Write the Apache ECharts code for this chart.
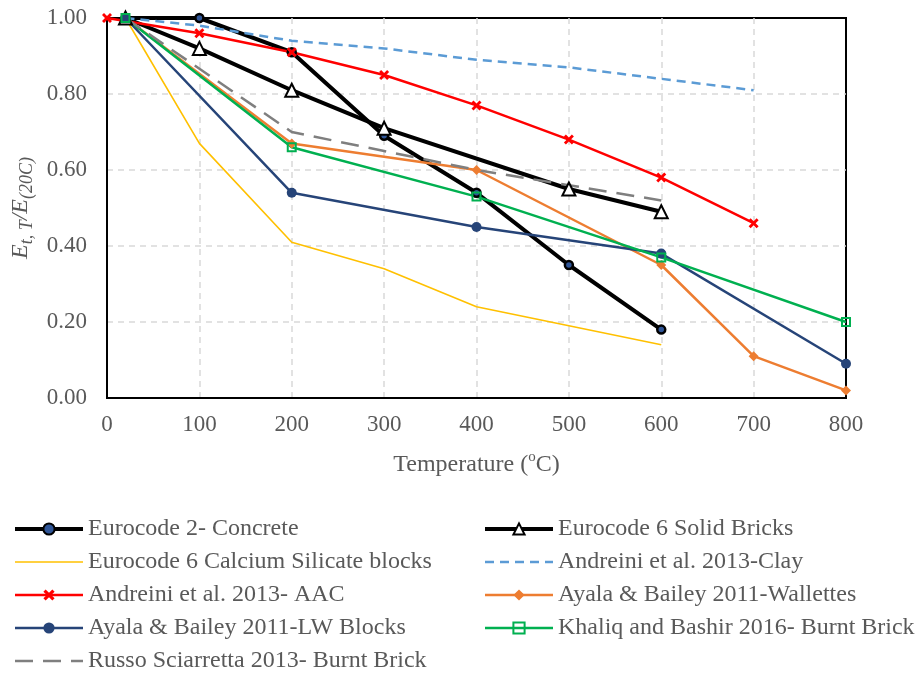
<!DOCTYPE html>
<html>
<head>
<meta charset="utf-8">
<script src="https://cdn.jsdelivr.net/npm/echarts@6/dist/echarts.min.js"></script>
<style>
  html, body { margin: 0; padding: 0; background: #fff; }
  #chart { width: 919px; height: 673px; }
</style>
</head>
<body>
<div id="chart"></div>
<script>
// Elastic modulus reduction factor E(t,T)/E(20C) versus temperature
const FONT = '"Liberation Serif", "Times New Roman", serif';
const TEXT_GREY = '#595959';

// Temperatures (°C) and reduction factors for each source
const ec2Temp      = [20, 100, 200, 300, 400, 500, 600];
const ec2Concrete  = [1.00, 1.00, 0.91, 0.69, 0.54, 0.35, 0.18];

const ec6SolidTemp = [20, 100, 200, 300, 500, 600];
const ec6Solid     = [1.00, 0.92, 0.81, 0.71, 0.55, 0.49];

const ec6CaSiTemp  = [20, 100, 200, 300, 400, 500, 600];
const ec6CaSi      = [1.00, 0.67, 0.41, 0.34, 0.24, 0.19, 0.14];

const clayTemp     = [20, 100, 200, 300, 400, 500, 600, 700];
const andreiniClay = [1.00, 0.98, 0.94, 0.92, 0.89, 0.87, 0.84, 0.81];

const aacTemp      = [0, 100, 200, 300, 400, 500, 600, 700];
const andreiniAAC  = [1.00, 0.96, 0.91, 0.85, 0.77, 0.68, 0.58, 0.46];

const wallTemp     = [20, 200, 400, 600, 700, 800];
const ayalaWall    = [1.00, 0.67, 0.60, 0.35, 0.11, 0.02];

const lwTemp       = [20, 200, 400, 600, 800];
const ayalaLW      = [1.00, 0.54, 0.45, 0.38, 0.09];

const khaliqTemp   = [20, 200, 400, 600, 800];
const khaliqBrick  = [1.00, 0.66, 0.53, 0.37, 0.20];

const russoTemp    = [20, 200, 300, 400, 500, 600];
const russoBrick   = [1.00, 0.70, 0.65, 0.60, 0.56, 0.52];

const pairs = (xs, ys) => xs.map((x, i) => [x, ys[i]]);

const crossPath = 'path://M2,0 L5,3 L8,0 L10,2 L7,5 L10,8 L8,10 L5,7 L2,10 L0,8 L3,5 L0,2 Z';

const series = [
  {
    name: 'Eurocode 2- Concrete', data: pairs(ec2Temp, ec2Concrete),
    color: '#000', lineStyle: { color: '#000', width: 4 },
    symbol: 'circle', symbolSize: 8,
    itemStyle: { color: '#2F5597', borderColor: '#000', borderWidth: 2.5 }
  },
  {
    name: 'Eurocode 6 Solid Bricks', data: pairs(ec6SolidTemp, ec6Solid),
    color: '#000', lineStyle: { color: '#000', width: 4 },
    symbol: 'triangle', symbolSize: 13,
    itemStyle: { color: '#fff', borderColor: '#000', borderWidth: 2 }
  },
  {
    name: 'Eurocode 6 Calcium Silicate blocks', data: pairs(ec6CaSiTemp, ec6CaSi),
    color: '#FFC000', lineStyle: { color: '#FFC000', width: 1.6 },
    symbol: 'none'
  },
  {
    name: 'Andreini et al. 2013-Clay', data: pairs(clayTemp, andreiniClay),
    color: '#5B9BD5', lineStyle: { color: '#5B9BD5', width: 2.5, type: [9, 6] },
    symbol: 'none'
  },
  {
    name: 'Andreini et al. 2013- AAC', data: pairs(aacTemp, andreiniAAC),
    color: '#FF0000', lineStyle: { color: '#FF0000', width: 2.5 },
    symbol: crossPath, symbolSize: 10,
    itemStyle: { color: '#FF0000' }
  },
  {
    name: 'Ayala & Bailey 2011-Wallettes', data: pairs(wallTemp, ayalaWall),
    color: '#ED7D31', lineStyle: { color: '#ED7D31', width: 2.5 },
    symbol: 'diamond', symbolSize: 10,
    itemStyle: { color: '#ED7D31' }
  },
  {
    name: 'Ayala & Bailey 2011-LW Blocks', data: pairs(lwTemp, ayalaLW),
    color: '#264478', lineStyle: { color: '#264478', width: 2.5 },
    symbol: 'circle', symbolSize: 10,
    itemStyle: { color: '#264478' }
  },
  {
    name: 'Khaliq and Bashir 2016- Burnt Brick', data: pairs(khaliqTemp, khaliqBrick),
    color: '#00B050', lineStyle: { color: '#00B050', width: 2.5 },
    symbol: 'rect', symbolSize: 8,
    itemStyle: { color: 'rgba(255,255,255,0)', borderColor: '#00B050', borderWidth: 2 }
  },
  {
    name: 'Russo Sciarretta 2013- Burnt Brick', data: pairs(russoTemp, russoBrick),
    color: '#7F7F7F', lineStyle: { color: '#7F7F7F', width: 2.5, type: [18, 10] },
    symbol: 'none'
  }
].map(s => Object.assign({ type: 'line', showSymbol: s.symbol !== 'none', animation: false, clip: false }, s));

// Legend entries: line width follows the series, markerless series hide the symbol
const legendEntry = name => {
  const s = series.find(d => d.name === name);
  const entry = { name: name, lineStyle: { width: s.lineStyle.width } };
  if (s.symbol === 'none') {
    entry.itemStyle = { color: 'rgba(0,0,0,0)', borderColor: 'rgba(0,0,0,0)', borderWidth: 0 };
  }
  return entry;
};

const legendBase = {
  orient: 'vertical',
  top: 517,
  height: 170,
  padding: 0,
  itemWidth: 68,
  itemHeight: 14,
  itemGap: 9,
  textStyle: { fontFamily: FONT, fontSize: 24, color: TEXT_GREY, lineHeight: 24 }
};

const gridLine = { show: true, showMinLine: false, showMaxLine: false,
  lineStyle: { color: '#D9D9D9', width: 1.5, type: [6, 5] } };

const chart = echarts.init(document.getElementById('chart'), null, { renderer: 'canvas' });
chart.setOption({
  backgroundColor: '#fff',
  animation: false,
  grid: {
    left: 107, right: 73, top: 18, bottom: 275,
    show: true, borderColor: '#000', borderWidth: 2, backgroundColor: 'transparent'
  },
  xAxis: {
    type: 'value', min: 0, max: 800, interval: 100,
    name: '{t|Temperature (}{sup|o}{t|C)}',
    nameLocation: 'middle', nameGap: 52,
    nameTextStyle: {
      rich: {
        t: { fontFamily: FONT, fontSize: 24, color: TEXT_GREY, lineHeight: 30 },
        sup: { fontFamily: FONT, fontSize: 15, color: TEXT_GREY, verticalAlign: 'top', lineHeight: 22 }
      }
    },
    axisLine: { show: true, lineStyle: { color: '#000', width: 2 } },
    axisTick: { show: false },
    axisLabel: { fontFamily: FONT, fontSize: 23, color: TEXT_GREY, margin: 15 },
    splitLine: gridLine
  },
  yAxis: {
    type: 'value', min: 0, max: 1, interval: 0.2,
    name: '{e|E}{s|t, T}{e|/E}{s|(20C)}',
    nameLocation: 'middle', nameGap: 69,
    nameRotate: 90,
    nameTextStyle: {
      rich: {
        e: { fontFamily: FONT, fontSize: 24, fontStyle: 'italic', color: TEXT_GREY, lineHeight: 30 },
        s: { fontFamily: FONT, fontSize: 18, fontStyle: 'italic', color: TEXT_GREY, verticalAlign: 'bottom', lineHeight: 20 }
      }
    },
    axisLine: { show: true, lineStyle: { color: '#000', width: 2 } },
    axisTick: { show: false },
    axisLabel: {
      fontFamily: FONT, fontSize: 23, color: TEXT_GREY, margin: 20,
      formatter: v => v.toFixed(2)
    },
    splitLine: gridLine
  },
  legend: [
    Object.assign({}, legendBase, {
      left: 13,
      data: [
        'Eurocode 2- Concrete',
        'Eurocode 6 Calcium Silicate blocks',
        'Andreini et al. 2013- AAC',
        'Ayala & Bailey 2011-LW Blocks',
        'Russo Sciarretta 2013- Burnt Brick'
      ].map(legendEntry)
    }),
    Object.assign({}, legendBase, {
      left: 483,
      data: [
        'Eurocode 6 Solid Bricks',
        'Andreini et al. 2013-Clay',
        'Ayala & Bailey 2011-Wallettes',
        'Khaliq and Bashir 2016- Burnt Brick'
      ].map(legendEntry)
    })
  ],
  series: series
});
</script>
</body>
</html>
